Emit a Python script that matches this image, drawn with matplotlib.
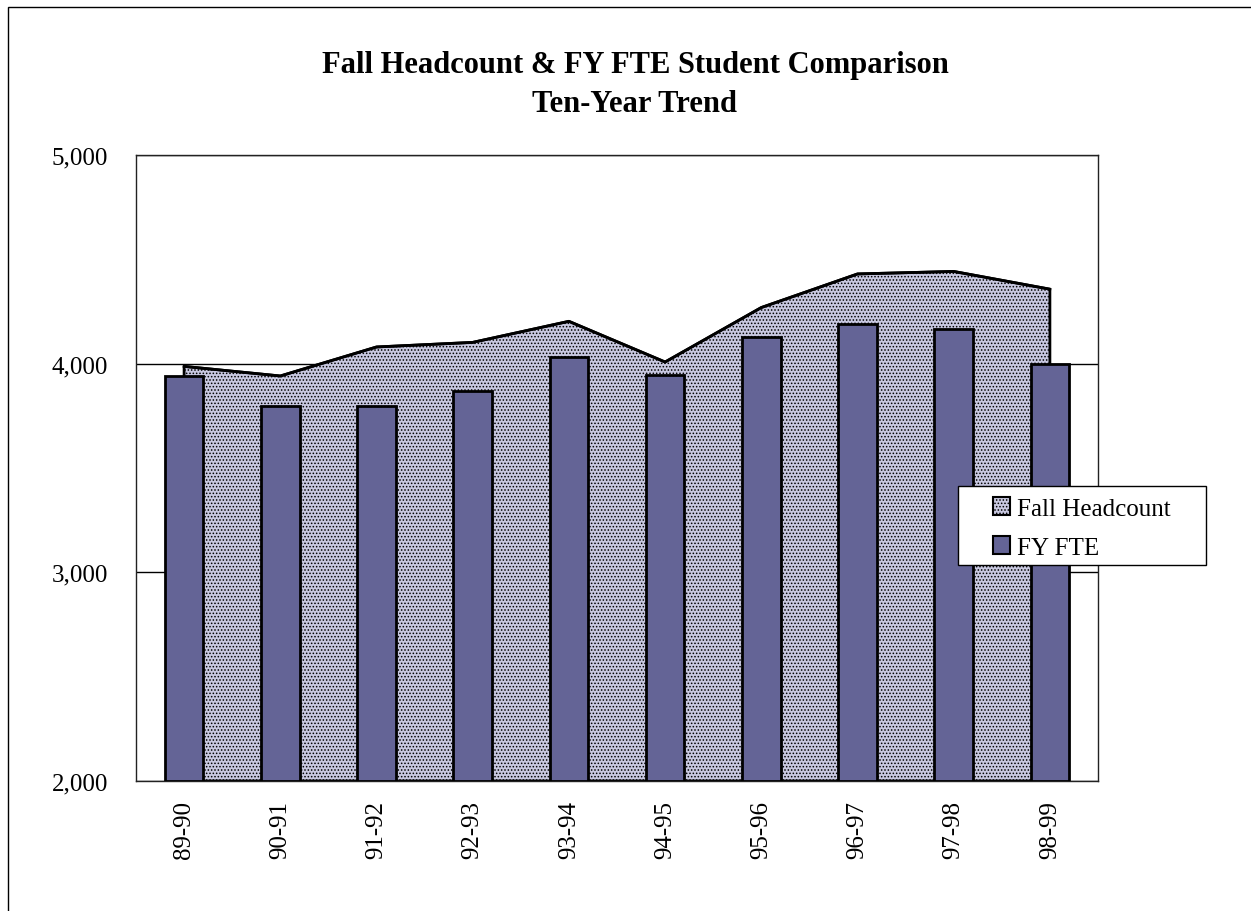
import matplotlib
matplotlib.use("Agg")
import matplotlib.pyplot as plt
import matplotlib.patches as mpatches
import numpy as np

categories = ["89-90", "90-91", "91-92", "92-93", "93-94",
              "94-95", "95-96", "96-97", "97-98", "98-99"]
fall_headcount = [3987, 3941, 4080, 4102, 4203, 4008, 4269, 4430, 4442, 4357]
fy_fte = [3939, 3795, 3798, 3867, 4030, 3947, 4128, 4192, 4168, 4000]
yticks = [2000, 3000, 4000, 5000]
title_lines = ["Fall Headcount & FY FTE Student Comparison", "Ten-Year Trend"]
legend_labels = ["Fall Headcount", "FY FTE"]

plt.rcParams['font.family'] = ['Liberation Serif', 'DejaVu Serif']
plt.rcParams['hatch.color'] = '#9a9ac4'
plt.rcParams['hatch.linewidth'] = 0.7

W, H = 1251, 912
fig = plt.figure(figsize=(W / 100, H / 100), dpi=100)

# figure border (top and left visible)
fig.patches.append(mpatches.Rectangle((8 / W, -0.1), 1.2, (H - 8) / H + 0.1,
                                      transform=fig.transFigure, fill=False,
                                      edgecolor='black', linewidth=1.0))

ax = fig.add_axes([136 / W, 1 - 782 / H, (1098 - 136) / W, (782 - 156) / H])
x = np.arange(len(categories))

area_face = '#c8c8e0'
bar_color = '#646496'
ax.fill_between(x, fall_headcount, 2000, facecolor=area_face, edgecolor='black',
                linewidth=2.0, hatch='.....', zorder=2)
ax.plot(x, fall_headcount, color='black', linewidth=2.0, zorder=3)
ax.bar(x, [v - 2000 for v in fy_fte], bottom=2000, width=0.4, color=bar_color,
       edgecolor='black', linewidth=2.0, zorder=4)

ax.set_xlim(-0.5, len(categories) - 0.5)
ax.set_ylim(2000, 5000)
ax.set_yticks(yticks)
ax.set_yticklabels([f"{v:,}" for v in yticks], fontsize=18)
ax.set_xticks(x)
ax.set_xticklabels(categories, rotation=90, fontsize=18)
ax.tick_params(axis='y', length=0, pad=20)
ax.tick_params(axis='x', length=0, pad=14)
ax.yaxis.grid(True, color='black', linewidth=1.0, zorder=0)
ax.set_axisbelow(True)
for s in ax.spines.values():
    s.set_linewidth(1.0)
    s.set_color('#222222')

fig.text(635 / W, 1 - 65 / H, title_lines[0], ha='center', va='center',
         fontsize=22, fontweight='bold')
fig.text(635 / W, 1 - 105 / H, title_lines[1], ha='center', va='center',
         fontsize=22, fontweight='bold')

# legend box
fig.patches.append(mpatches.Rectangle((958 / W, 1 - 566 / H), (1206 - 958) / W, 79 / H,
                                      transform=fig.transFigure, facecolor='white',
                                      edgecolor='black', linewidth=1.0, zorder=5))
h1 = mpatches.Patch(facecolor=area_face, edgecolor='black', hatch='.....', linewidth=1.5)
h2 = mpatches.Patch(facecolor=bar_color, edgecolor='black', linewidth=1.5)
leg = fig.legend([h1, h2], legend_labels,
                 bbox_to_anchor=(993 / W, 1 - 529 / H),
                 loc='center left', fontsize=18, frameon=False,
                 handlelength=0.7, handleheight=0.7,
                 handletextpad=0.25, borderpad=0, labelspacing=0.65,
                 borderaxespad=0)
leg.set_zorder(6)

fig.savefig("out.png", dpi=100)
